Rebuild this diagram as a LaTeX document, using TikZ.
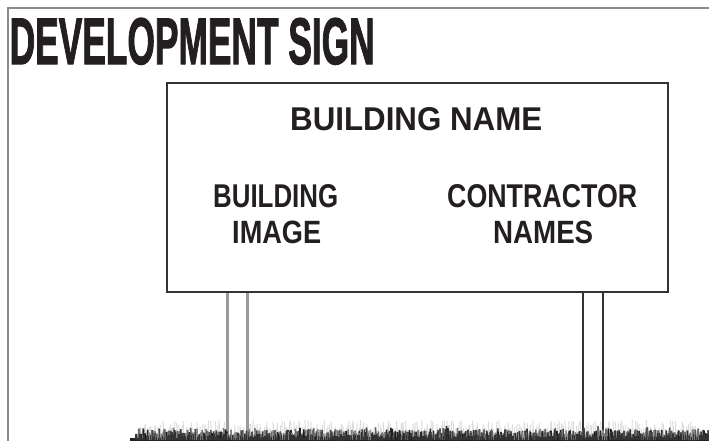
\documentclass[tikz,border=0pt]{standalone}
\usepackage{fontspec}
\setmainfont{Liberation Sans}
\newfontfamily\titlefont[FakeBold=2]{Liberation Sans Bold}
\definecolor{ink}{HTML}{231F20}
\definecolor{framegray}{HTML}{8A8A8A}
\definecolor{postgray}{HTML}{9A9A9A}
\definecolor{postdark}{HTML}{333333}
\begin{document}
\begin{tikzpicture}[x=1pt,y=-1pt,
  lbl/.style={inner sep=0pt, anchor=base west, text=ink, font=\bfseries},
  signbox/.style={draw=postdark, line width=1.8pt, fill=white},
  lightpost/.style={draw=postgray, line width=3pt},
  darkpost/.style={draw=postdark, line width=1.7pt}]
\useasboundingbox (0,0) rectangle (709,440);
\fill[white] (0,0) rectangle (709,440);
% frame
\draw[framegray, line width=2pt] (8,441) -- (8,8) -- (710,8);
% title
\node[lbl, font=\titlefont] (title) at (9.5,64) {\resizebox{365pt}{46pt}{DEVELOPMENT SIGN}};
% grass (faint)
\pgfmathsetseed{4242}
\foreach \i in {0,...,280} {
  \pgfmathsetmacro{\h}{10+10*rnd}
  \pgfmathsetmacro{\dx}{3*rnd-1.5}
  \draw[black!14, line width=1pt] (140+2*\i,440) -- (140+2*\i+\dx,440-\h);
}
% posts
\draw[lightpost] (227,292) -- (227,436);
\draw[lightpost] (247,292) -- (247,436);
\draw[darkpost] (583,292) -- (583,436);
\draw[darkpost] (603,292) -- (603,436);
% grass (dark)
\fill[ink] (130,438) rectangle (709,440.5);
\foreach \i in {0,...,400} {
  \pgfmathsetmacro{\h}{5+5*rnd+5*rnd*rnd}
  \pgfmathsetmacro{\dx}{2*rnd-1}
  \pgfmathsetmacro{\g}{45+45*rnd}
  \draw[black!\g, line width=1.7pt] (137+1.43*\i,440) -- (137+1.43*\i+\dx,440-\h);
}
\foreach \i in {0,...,280} {
  \pgfmathsetmacro{\h}{2+4*rnd}
  \draw[black!80, line width=1.5pt] (136+2.05*\i,440) -- (136+2.05*\i,440-\h);
}
% sign
\node[signbox, minimum width=501pt, minimum height=209pt, inner sep=0pt] (sign) at (417.5,187.5) {};
\node[lbl] (bname) at (290,130) {\resizebox{252pt}{23pt}{BUILDING NAME}};
\node[lbl] (bimg1) at (213,207) {\resizebox{125pt}{23pt}{BUILDING}};
\node[lbl] (bimg2) at (232,243) {\resizebox{89pt}{22.5pt}{IMAGE}};
\node[lbl] (cont1) at (447,207) {\resizebox{190pt}{23pt}{CONTRACTOR}};
\node[lbl] (cont2) at (493,243) {\resizebox{100pt}{22.5pt}{NAMES}};
\end{tikzpicture}
\end{document}
